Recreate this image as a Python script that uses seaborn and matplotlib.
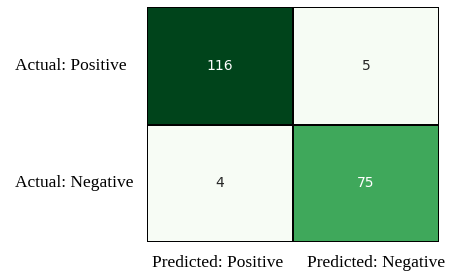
import numpy as np
import pandas as pd
import matplotlib
matplotlib.use("Agg")
import matplotlib.pyplot as plt
import matplotlib.transforms as mtransforms
import seaborn as sns

# confusion matrix values
row_labels = ["Actual: Positive", "Actual: Negative"]
col_labels = ["Predicted: Positive", "Predicted: Negative"]
counts = [[116, 5],
          [4, 75]]

cm = pd.DataFrame(counts, index=row_labels, columns=col_labels)

fig = plt.figure(figsize=(4.6, 2.77), dpi=100)
ax = fig.add_axes([0.32, 0.126, 0.634, 0.849])

sns.heatmap(cm, annot=True, fmt="d", cmap="Greens", cbar=False,
            linewidths=1.1, linecolor="black", ax=ax,
            annot_kws={"fontsize": 10})

ax.tick_params(axis="both", length=0)
ax.set_xticklabels(col_labels, fontsize=12.5, family="Liberation Serif", rotation=0)
ax.set_yticklabels(row_labels, fontsize=12.5, family="Liberation Serif", rotation=0, ha="left")
ax.tick_params(axis="y", pad=95)
ax.tick_params(axis="x", pad=9)
ax.set_xlabel("")
ax.set_ylabel("")

# nudge the column labels a little, as in the original layout
shifts = [-0.02, 0.10]
for lab, dx in zip(ax.get_xticklabels(), shifts):
    lab.set_transform(lab.get_transform() +
                      mtransforms.ScaledTranslation(dx, 0, fig.dpi_scale_trans))

fig.savefig("out.png", dpi=100)
